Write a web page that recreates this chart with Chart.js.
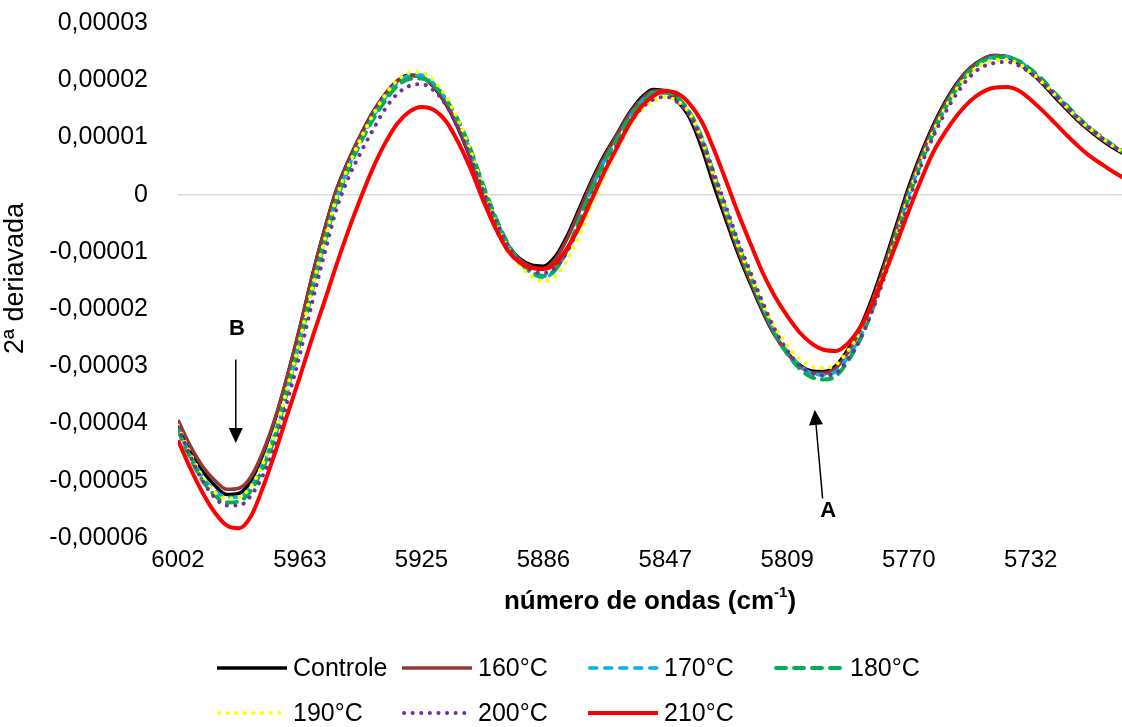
<!DOCTYPE html>
<html>
<head>
<meta charset="utf-8">
<script src="https://cdn.jsdelivr.net/npm/chart.js@4.4.1/dist/chart.umd.min.js"></script>
<style>
    html, body { margin: 0; padding: 0; background: #fff; }
    .chartreport { width: 1122px; height: 727px; position: relative; }
</style>
</head>
<body>
<div class="chartreport"><canvas id="Chart1"></canvas></div>
<script>
// número de ondas (cm-1), one point every 3.857 cm-1
var wavenumbers = [
    6001.7, 5997.8, 5994.0, 5990.1, 5986.3, 5982.4, 5978.6, 5974.7, 5970.8, 5967.0,
    5963.1, 5959.3, 5955.4, 5951.6, 5947.7, 5943.8, 5940.0, 5936.1, 5932.3, 5928.4,
    5924.6, 5920.7, 5916.8, 5913.0, 5909.1, 5905.3, 5901.4, 5897.6, 5893.7, 5889.8,
    5886.0, 5882.1, 5878.3, 5874.4, 5870.6, 5866.7, 5862.8, 5859.0, 5855.1, 5851.3,
    5847.4, 5843.6, 5839.7, 5835.8, 5832.0, 5828.1, 5824.3, 5820.4, 5816.6, 5812.7,
    5808.8, 5805.0, 5801.1, 5797.3, 5793.4, 5789.6, 5785.7, 5781.8, 5778.0, 5774.1,
    5770.3, 5766.4, 5762.6, 5758.7, 5754.8, 5751.0, 5747.1, 5743.3, 5739.4, 5735.6,
    5731.7, 5727.8, 5724.0, 5720.1, 5716.3, 5712.4, 5708.6, 5704.7, 5700.8
];

// 2ª derivada, in units of 1e-5
var controle = [
    -3.99, -4.45, -4.82, -5.08, -5.24, -5.22, -5.00, -4.52, -3.90, -3.16,
    -2.32, -1.44, -0.63, 0.07, 0.60, 1.05, 1.44, 1.76, 1.99, 2.09,
    2.06, 1.88, 1.58, 1.16, 0.63, 0.04, -0.46, -0.86, -1.11, -1.23,
    -1.25, -1.07, -0.70, -0.21, 0.26, 0.69, 1.05, 1.41, 1.69, 1.84,
    1.81, 1.64, 1.34, 0.81, 0.16, -0.46, -1.04, -1.56, -2.04, -2.46,
    -2.76, -2.97, -3.08, -3.09, -2.99, -2.71, -2.32, -1.79, -1.18, -0.51,
    0.14, 0.72, 1.21, 1.63, 1.97, 2.21, 2.36, 2.43, 2.41, 2.30,
    2.13, 1.93, 1.70, 1.48, 1.27, 1.09, 0.93, 0.79, 0.67
];
var t160 = [
    -3.94, -4.39, -4.74, -4.99, -5.15, -5.13, -4.93, -4.48, -3.88, -3.15,
    -2.32, -1.45, -0.64, 0.06, 0.59, 1.04, 1.43, 1.75, 1.98, 2.08,
    2.06, 1.89, 1.60, 1.18, 0.65, 0.06, -0.44, -0.85, -1.12, -1.26,
    -1.29, -1.12, -0.75, -0.26, 0.22, 0.66, 1.03, 1.39, 1.66, 1.81,
    1.82, 1.70, 1.40, 0.90, 0.26, -0.38, -0.98, -1.52, -2.01, -2.45,
    -2.77, -2.99, -3.11, -3.12, -3.03, -2.76, -2.37, -1.85, -1.24, -0.57,
    0.08, 0.67, 1.17, 1.60, 1.95, 2.20, 2.36, 2.43, 2.42, 2.32,
    2.16, 1.96, 1.73, 1.50, 1.29, 1.11, 0.95, 0.81, 0.69
];
var t170 = [
    -4.08, -4.55, -4.92, -5.17, -5.29, -5.29, -5.10, -4.69, -4.13, -3.36,
    -2.54, -1.65, -0.82, -0.08, 0.48, 0.95, 1.35, 1.69, 1.95, 2.08,
    2.09, 1.94, 1.67, 1.28, 0.77, 0.18, -0.38, -0.84, -1.16, -1.37,
    -1.45, -1.31, -0.94, -0.40, 0.12, 0.59, 0.96, 1.33, 1.62, 1.78,
    1.79, 1.69, 1.42, 0.96, 0.32, -0.31, -0.90, -1.44, -1.95, -2.40,
    -2.74, -2.97, -3.12, -3.15, -3.09, -2.84, -2.48, -1.93, -1.34, -0.68,
    -0.01, 0.59, 1.10, 1.54, 1.90, 2.16, 2.33, 2.40, 2.41, 2.34,
    2.18, 1.98, 1.76, 1.53, 1.32, 1.13, 0.97, 0.82, 0.70
];
var t180 = [
    -4.11, -4.60, -4.99, -5.25, -5.38, -5.36, -5.17, -4.76, -4.20, -3.40,
    -2.58, -1.69, -0.86, -0.12, 0.45, 0.92, 1.31, 1.64, 1.90, 2.02,
    2.03, 1.91, 1.66, 1.30, 0.80, 0.20, -0.36, -0.82, -1.15, -1.35,
    -1.42, -1.30, -0.95, -0.42, 0.10, 0.57, 0.94, 1.31, 1.59, 1.76,
    1.78, 1.69, 1.44, 0.99, 0.35, -0.28, -0.88, -1.43, -1.95, -2.42,
    -2.78, -3.03, -3.19, -3.23, -3.17, -2.91, -2.53, -2.00, -1.37, -0.71,
    -0.04, 0.56, 1.07, 1.52, 1.88, 2.15, 2.33, 2.39, 2.40, 2.34,
    2.19, 2.00, 1.77, 1.55, 1.33, 1.14, 0.98, 0.83, 0.71
];
var t190 = [
    -4.04, -4.53, -4.92, -5.20, -5.31, -5.29, -5.10, -4.69, -4.13, -3.36,
    -2.54, -1.65, -0.82, -0.07, 0.50, 0.98, 1.39, 1.74, 2.00, 2.13,
    2.14, 1.99, 1.71, 1.30, 0.77, 0.16, -0.40, -0.88, -1.22, -1.43,
    -1.52, -1.42, -1.12, -0.68, -0.17, 0.33, 0.78, 1.18, 1.47, 1.63,
    1.70, 1.64, 1.42, 0.95, 0.32, -0.31, -0.90, -1.42, -1.90, -2.32,
    -2.64, -2.87, -3.00, -3.03, -2.97, -2.73, -2.39, -1.90, -1.34, -0.68,
    -0.01, 0.59, 1.09, 1.52, 1.87, 2.12, 2.28, 2.35, 2.36, 2.29,
    2.14, 1.95, 1.74, 1.52, 1.31, 1.13, 0.97, 0.82, 0.70
];
var t200 = [
    -4.06, -4.57, -4.99, -5.29, -5.43, -5.43, -5.26, -4.89, -4.36, -3.59,
    -2.79, -1.90, -1.05, -0.27, 0.30, 0.74, 1.13, 1.50, 1.76, 1.90,
    1.93, 1.82, 1.56, 1.16, 0.66, 0.10, -0.40, -0.85, -1.15, -1.32,
    -1.37, -1.27, -0.98, -0.52, -0.03, 0.44, 0.85, 1.22, 1.50, 1.66,
    1.71, 1.62, 1.38, 0.95, 0.38, -0.22, -0.82, -1.36, -1.88, -2.36,
    -2.72, -2.98, -3.12, -3.16, -3.12, -2.88, -2.52, -2.02, -1.44, -0.77,
    -0.11, 0.51, 1.01, 1.44, 1.79, 2.06, 2.23, 2.30, 2.32, 2.26,
    2.12, 1.95, 1.74, 1.53, 1.32, 1.14, 0.97, 0.82, 0.70
];
var t210 = [
    -4.29, -4.78, -5.20, -5.55, -5.78, -5.83, -5.62, -5.10, -4.48, -3.83,
    -3.18, -2.52, -1.88, -1.24, -0.62, -0.05, 0.46, 0.90, 1.24, 1.45,
    1.53, 1.48, 1.28, 0.92, 0.46, -0.07, -0.56, -0.95, -1.18, -1.28,
    -1.30, -1.20, -0.92, -0.53, -0.07, 0.40, 0.81, 1.21, 1.53, 1.72,
    1.81, 1.77, 1.59, 1.27, 0.79, 0.23, -0.33, -0.86, -1.36, -1.78,
    -2.12, -2.40, -2.60, -2.71, -2.73, -2.60, -2.32, -1.90, -1.39, -0.84,
    -0.28, 0.26, 0.74, 1.10, 1.40, 1.63, 1.79, 1.87, 1.88, 1.82,
    1.66, 1.46, 1.25, 1.03, 0.83, 0.65, 0.51, 0.37, 0.25
];
var UNIT = 1e-5;

var seriesLabels = ['Controle', '160°C', '170°C', '180°C', '190°C', '200°C', '210°C'];
var seriesValues = [controle, t160, t170, t180, t190, t200, t210];

var xTickValues = [6001.7, 5963.1, 5924.6, 5886.0, 5847.4, 5808.8, 5770.3, 5731.7];
var xTickLabels = ['6002', '5963', '5925', '5886', '5847', '5809', '5770', '5732'];
var yTickValues = [-0.00006, -0.00005, -0.00004, -0.00003, -0.00002, -0.00001, 0, 0.00001, 0.00002, 0.00003];

var lineStyles = [
    { color: '#000000', width: 3.5, dash: [], cap: 'butt' },
    { color: '#953735', width: 3.5, dash: [], cap: 'butt' },
    { color: '#00B0F0', width: 3.5, dash: [7, 8], cap: 'round' },
    { color: '#00B050', width: 4, dash: [10, 8], cap: 'round' },
    { color: '#FFFF00', width: 4, dash: [0.1, 8.5], cap: 'round' },
    { color: '#7030A0', width: 4, dash: [0.1, 8.5], cap: 'round' },
    { color: '#FF0000', width: 4, dash: [], cap: 'butt' }
];

var FONT = '"Liberation Sans", Arial, sans-serif';

function formatY(value) {
    if (Math.abs(value) < 1e-12) {
        return '0';
    }
    return value.toFixed(5).replace('.', ',');
}

// titles, legend and the A / B markers
var chartExtras = {
    id: 'chartExtras',
    afterDraw: function (chart) {
        var ctx = chart.ctx;
        var area = chart.chartArea;
        var x = chart.scales.x;
        var y = chart.scales.y;
        ctx.save();
        ctx.fillStyle = '#000';

        // x title with superscript
        var main = 'número de ondas (cm';
        ctx.font = 'bold 26px ' + FONT;
        var w1 = ctx.measureText(main).width;
        var w3 = ctx.measureText(')').width;
        ctx.font = 'bold 15px ' + FONT;
        var w2 = ctx.measureText('-1').width;
        var tx = (area.left + area.right) / 2 - (w1 + w2 + w3) / 2;
        var ty = 602;
        ctx.textBaseline = 'middle';
        ctx.textAlign = 'left';
        ctx.font = 'bold 26px ' + FONT;
        ctx.fillText(main, tx, ty);
        ctx.font = 'bold 15px ' + FONT;
        ctx.fillText('-1', tx + w1, ty - 9);
        ctx.font = 'bold 26px ' + FONT;
        ctx.fillText(')', tx + w1 + w2, ty);

        // y title
        ctx.save();
        ctx.translate(16, (area.top + area.bottom) / 2 - 2);
        ctx.rotate(-Math.PI / 2);
        ctx.textAlign = 'center';
        ctx.font = '27px ' + FONT;
        ctx.fillText('2ª deriavada', 0, 0);
        ctx.restore();

        // legend
        var colX = [217, 402, 588, 774];
        var rowY = [668, 713];
        for (var i = 0; i < seriesLabels.length; i++) {
            var st = lineStyles[i];
            var lx = colX[i % 4];
            var ly = rowY[Math.floor(i / 4)];
            ctx.beginPath();
            ctx.strokeStyle = st.color;
            ctx.lineWidth = st.width;
            ctx.lineCap = st.cap;
            ctx.setLineDash(st.dash);
            ctx.moveTo(lx + (st.cap === 'round' ? st.width / 2 : 0), ly);
            ctx.lineTo(lx + 70, ly);
            ctx.stroke();
            ctx.setLineDash([]);
            ctx.font = '25px ' + FONT;
            ctx.fillStyle = '#000';
            ctx.textAlign = 'left';
            ctx.fillText(seriesLabels[i], lx + 76, ly + 1);
        }

        // markers
        ctx.strokeStyle = '#000';
        ctx.fillStyle = '#000';
        ctx.lineWidth = 1.5;
        ctx.lineCap = 'butt';
        drawArrow(ctx, x.getPixelForValue(5983.4), y.getPixelForValue(-2.88e-5),
            x.getPixelForValue(5983.4), y.getPixelForValue(-4.34e-5));
        drawArrow(ctx, x.getPixelForValue(5797.6), y.getPixelForValue(-5.31e-5),
            x.getPixelForValue(5800.1), y.getPixelForValue(-3.76e-5));
        ctx.font = 'bold 22px ' + FONT;
        ctx.textAlign = 'center';
        ctx.fillText('B', x.getPixelForValue(5983.0), y.getPixelForValue(-2.35e-5));
        ctx.fillText('A', x.getPixelForValue(5795.8), y.getPixelForValue(-5.52e-5));
        ctx.restore();
    }
};

function drawArrow(ctx, x1, y1, x2, y2) {
    var ang = Math.atan2(y2 - y1, x2 - x1);
    var head = 15;
    var half = 7;
    var bx = x2 - head * Math.cos(ang);
    var by = y2 - head * Math.sin(ang);
    ctx.beginPath();
    ctx.moveTo(x1, y1);
    ctx.lineTo(bx, by);
    ctx.stroke();
    ctx.beginPath();
    ctx.moveTo(x2, y2);
    ctx.lineTo(bx + half * Math.sin(ang), by - half * Math.cos(ang));
    ctx.lineTo(bx - half * Math.sin(ang), by + half * Math.cos(ang));
    ctx.closePath();
    ctx.fill();
}

var datasets = [];
for (var i = 0; i < seriesValues.length; i++) {
    var st = lineStyles[i];
    datasets.push({
        label: seriesLabels[i],
        data: wavenumbers.map(function (w, k) {
            return { x: w, y: this[k] * UNIT };
        }, seriesValues[i]),
        borderColor: st.color,
        backgroundColor: st.color,
        borderWidth: st.width,
        borderDash: st.dash,
        borderCapStyle: st.cap,
        pointRadius: 0,
        cubicInterpolationMode: 'monotone',
        order: seriesValues.length - i
    });
}

var ctx1 = document.getElementById('Chart1');
var Chart1 = new Chart(ctx1, {
    type: 'line',
    data: { datasets: datasets },
    options: {
        responsive: true,
        maintainAspectRatio: false,
        animation: false,
        devicePixelRatio: 1,
        layout: { padding: { top: 23, right: 0, bottom: 0, left: 0 } },
        plugins: {
            legend: { display: false },
            tooltip: { enabled: false }
        },
        scales: {
            x: {
                type: 'linear',
                reverse: true,
                min: 5702.8,
                max: 6001.7,
                afterBuildTicks: function (scale) {
                    scale.ticks = xTickValues.map(function (v) { return { value: v }; });
                },
                afterFit: function (scale) {
                    scale.height = 189;
                    scale.paddingLeft = 0;
                    scale.paddingRight = 0;
                },
                grid: { display: false, drawTicks: false },
                border: { display: false },
                ticks: {
                    autoSkip: false,
                    maxRotation: 0,
                    padding: 8,
                    color: '#000',
                    font: { family: FONT, size: 24 },
                    callback: function (value, index) {
                        return xTickLabels[index];
                    }
                }
            },
            y: {
                min: -0.00006,
                max: 0.00003,
                afterBuildTicks: function (scale) {
                    scale.ticks = yTickValues.map(function (v) { return { value: v }; });
                },
                afterFit: function (scale) {
                    scale.width = 178;
                    scale.paddingTop = 0;
                    scale.paddingBottom = 0;
                },
                grid: {
                    drawTicks: false,
                    lineWidth: 1.5,
                    color: function (c) {
                        return c.tick && Math.abs(c.tick.value) < 1e-12 ? '#D9D9D9' : 'rgba(0,0,0,0)';
                    }
                },
                border: { display: false },
                ticks: {
                    padding: 30,
                    color: '#000',
                    font: { family: FONT, size: 25 },
                    callback: function (value) {
                        return formatY(value);
                    }
                }
            }
        }
    },
    plugins: [chartExtras]
});
</script>
</body>
</html>
